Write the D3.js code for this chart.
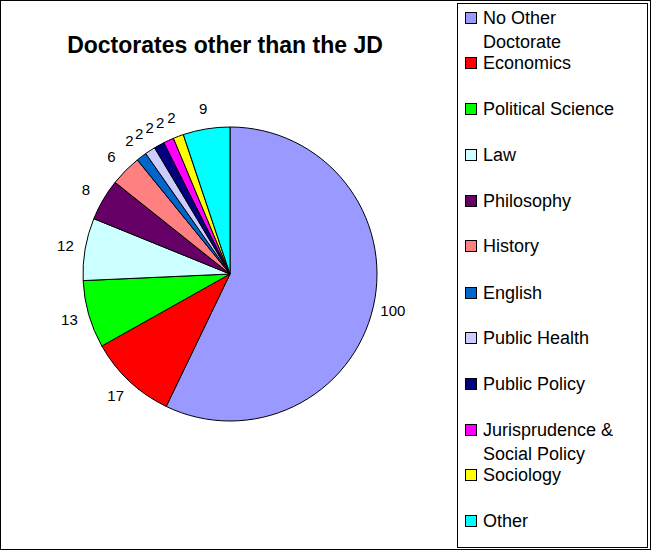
<!DOCTYPE html>
<html><head><script src="https://cdn.jsdelivr.net/npm/d3@7"></script>
<style>body{margin:0;background:#fff}</style></head>
<body><svg width="653" height="552"></svg>
<script>
const categories=["No Other Doctorate","Economics","Political Science","Law","Philosophy","History","English","Public Health","Public Policy","Jurisprudence & Social Policy","Sociology","Other"];
const legendLines=[["No Other","Doctorate"],["Economics"],["Political Science"],["Law"],["Philosophy"],["History"],["English"],["Public Health"],["Public Policy"],["Jurisprudence &","Social Policy"],["Sociology"],["Other"]];
const values=[100,17,13,12,8,6,2,2,2,2,2,9];
const colors=["#9999FF","#FF0000","#00FF00","#CCFFFF","#660066","#FF8080","#0066CC","#CCCCFF","#000080","#FF00FF","#FFFF00","#00FFFF"];
const svg=d3.select("svg");
const F="Arial, Liberation Sans, sans-serif";
svg.append("rect").attr("x",0.5).attr("y",0.5).attr("width",650).attr("height",549).attr("fill","#fff").attr("stroke","#000");
svg.append("text").attr("x",225).attr("y",53).attr("text-anchor","middle").attr("font-family",F).attr("font-weight","bold").attr("font-size",23).text("Doctorates other than the JD");
const cx=230,cy=274,r=147;
const pie=d3.pie().sort(null).value(d=>d)(values);
const arc=d3.arc().innerRadius(0).outerRadius(r);
const g=svg.append("g").attr("transform",`translate(${cx},${cy})`);
g.selectAll("path").data(pie).join("path").attr("d",arc).attr("fill",(d,i)=>colors[i]).attr("stroke","#000").attr("stroke-width",1);
const la=d3.arc().innerRadius(r+20).outerRadius(r+20);
g.selectAll("text").data(pie).join("text").attr("transform",d=>`translate(${la.centroid(d)})`)
 .attr("text-anchor","middle").attr("dy","0.35em").attr("font-family",F).attr("font-size",15).text(d=>d.data);
svg.append("rect").attr("x",457.5).attr("y",3.5).attr("width",190).attr("height",544).attr("fill","#fff").attr("stroke","#000");
const ys=[18,63,109,155,201,246,293,338,384,430,475,521];
const lg=svg.append("g");
categories.forEach((c,i)=>{
  lg.append("rect").attr("x",465.5).attr("y",ys[i]-5.5).attr("width",11).attr("height",11).attr("fill",colors[i]).attr("stroke","#000");
  legendLines[i].forEach((t,j)=>lg.append("text").attr("x",483).attr("y",ys[i]+6+j*24).attr("font-family",F).attr("font-size",18).text(t));
});
</script></body></html>
